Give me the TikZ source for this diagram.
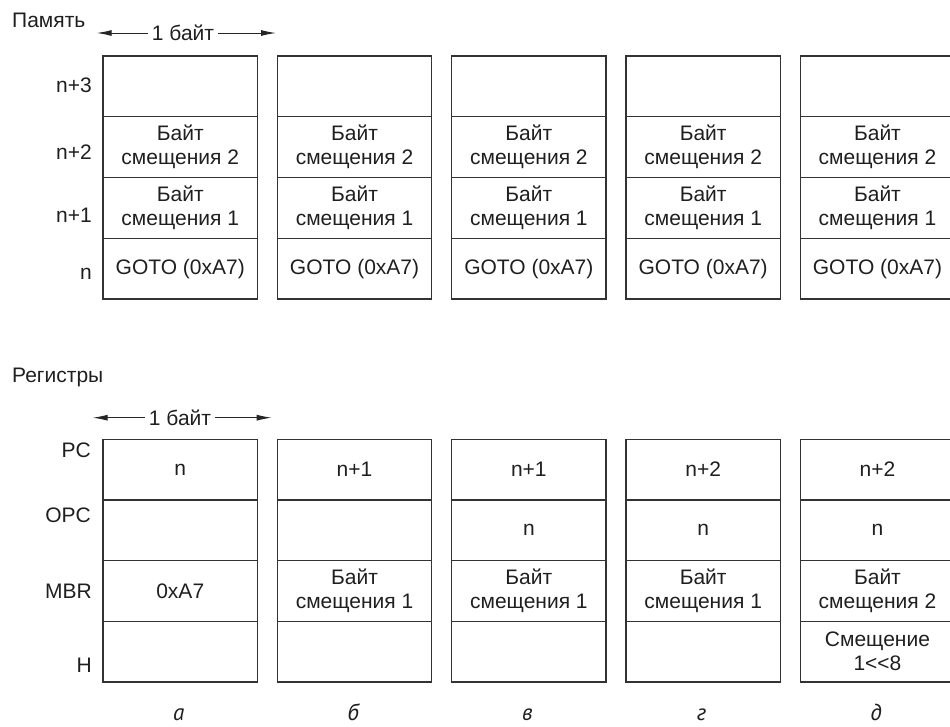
\documentclass[tikz,border=0pt]{standalone}
\usepackage{fontspec}
\setmainfont{Liberation Sans}
\newfontfamily\capfont{PT Sans Italic}
\usetikzlibrary{arrows.meta}
\tikzset{
  x=1pt, y=-1pt,
  every node/.style={font=\fontsize{21}{24}\selectfont, text=black!88},
  cell/.style={draw=black!80, line width=1.3pt, minimum width=154.5pt, minimum height=60.7pt, inner sep=0pt, align=center, anchor=center},
  rowlabel/.style={anchor=east, inner sep=0pt},
  bytelabel/.style={inner sep=4pt},
  bytearrow/.style={draw=black!85, line width=1pt, -{Latex[length=15pt,width=6pt]}},
  caption/.style={font=\capfont\fontsize{23}{24}\selectfont, anchor=base, inner sep=0pt},
  title/.style={anchor=base west, inner sep=0pt}
}
\begin{document}
\begin{tikzpicture}
\useasboundingbox (0,0) rectangle (950,726);
\clip (0,0) rectangle (950,726);
% titles
\node[title] (tmem) at (12,27.3) {Память};
\node[title] (treg) at (12,382) {Регистры};
% byte width arrows
\node[bytelabel] (bm) at (183,33) {1 байт};
\coordinate (bmL) at (96.7,33);
\coordinate (bmR) at (276,33);
\draw[bytearrow] (bm.west) -- (bmL);
\draw[bytearrow] (bm.east) -- (bmR);
\node[bytelabel] (br) at (180,417.7) {1 байт};
\coordinate (brL) at (92.7,417.7);
\coordinate (brR) at (271.7,417.7);
\draw[bytearrow] (br.west) -- (brL);
\draw[bytearrow] (br.east) -- (brR);
% memory row labels
\node[rowlabel] (ml1) at (92,85) {n+3};
\node[rowlabel] (ml2) at (92,151.7) {n+2};
\node[rowlabel] (ml3) at (92,215) {n+1};
\node[rowlabel] (ml4) at (92,274) {n};
% register row labels
\node[rowlabel] (rl1) at (91,450) {PC};
\node[rowlabel] (rl2) at (91,515.7) {OPC};
\node[rowlabel] (rl3) at (92,591.7) {MBR};
\node[rowlabel] (rl4) at (92,665.7) {H};
% memory columns
\foreach \i in {1,...,5}{
  \pgfmathsetmacro{\cx}{180.25+174.3*(\i-1)}
  \node[cell] (m\i-1) at (\cx,86.4) {};
  \node[cell] (m\i-2) at (\cx,147.1) {Байт\\смещения 2};
  \node[cell] (m\i-3) at (\cx,207.9) {Байт\\смещения 1};
  \node[cell] (m\i-4) at (\cx,268.6) {GOTO (0xA7)};
}
% register columns
\foreach \i/\a/\b/\c/\d/\cap in {
  1/{n}/{}/{0xA7}/{}/{а},
  2/{n+1}/{}/{Байт\\смещения 1}/{}/{б},
  3/{n+1}/{n}/{Байт\\смещения 1}/{}/{в},
  4/{n+2}/{n}/{Байт\\смещения 1}/{}/{г},
  5/{n+2}/{n}/{Байт\\смещения 2}/{Смещение\\1<\kern0pt<\kern0pt8}/{д}}{
  \pgfmathsetmacro{\cx}{180.25+174.3*(\i-1)}
  \node[cell] (r\i-1) at (\cx,469.5) {\a};
  \node[cell] (r\i-2) at (\cx,530.2) {\b};
  \node[cell] (r\i-3) at (\cx,590.9) {\c};
  \node[cell] (r\i-4) at (\cx,651.6) {\d};
  \node[caption] (cap\i) at (\cx-1.5,720) {\cap};
}
\end{tikzpicture}
\end{document}
